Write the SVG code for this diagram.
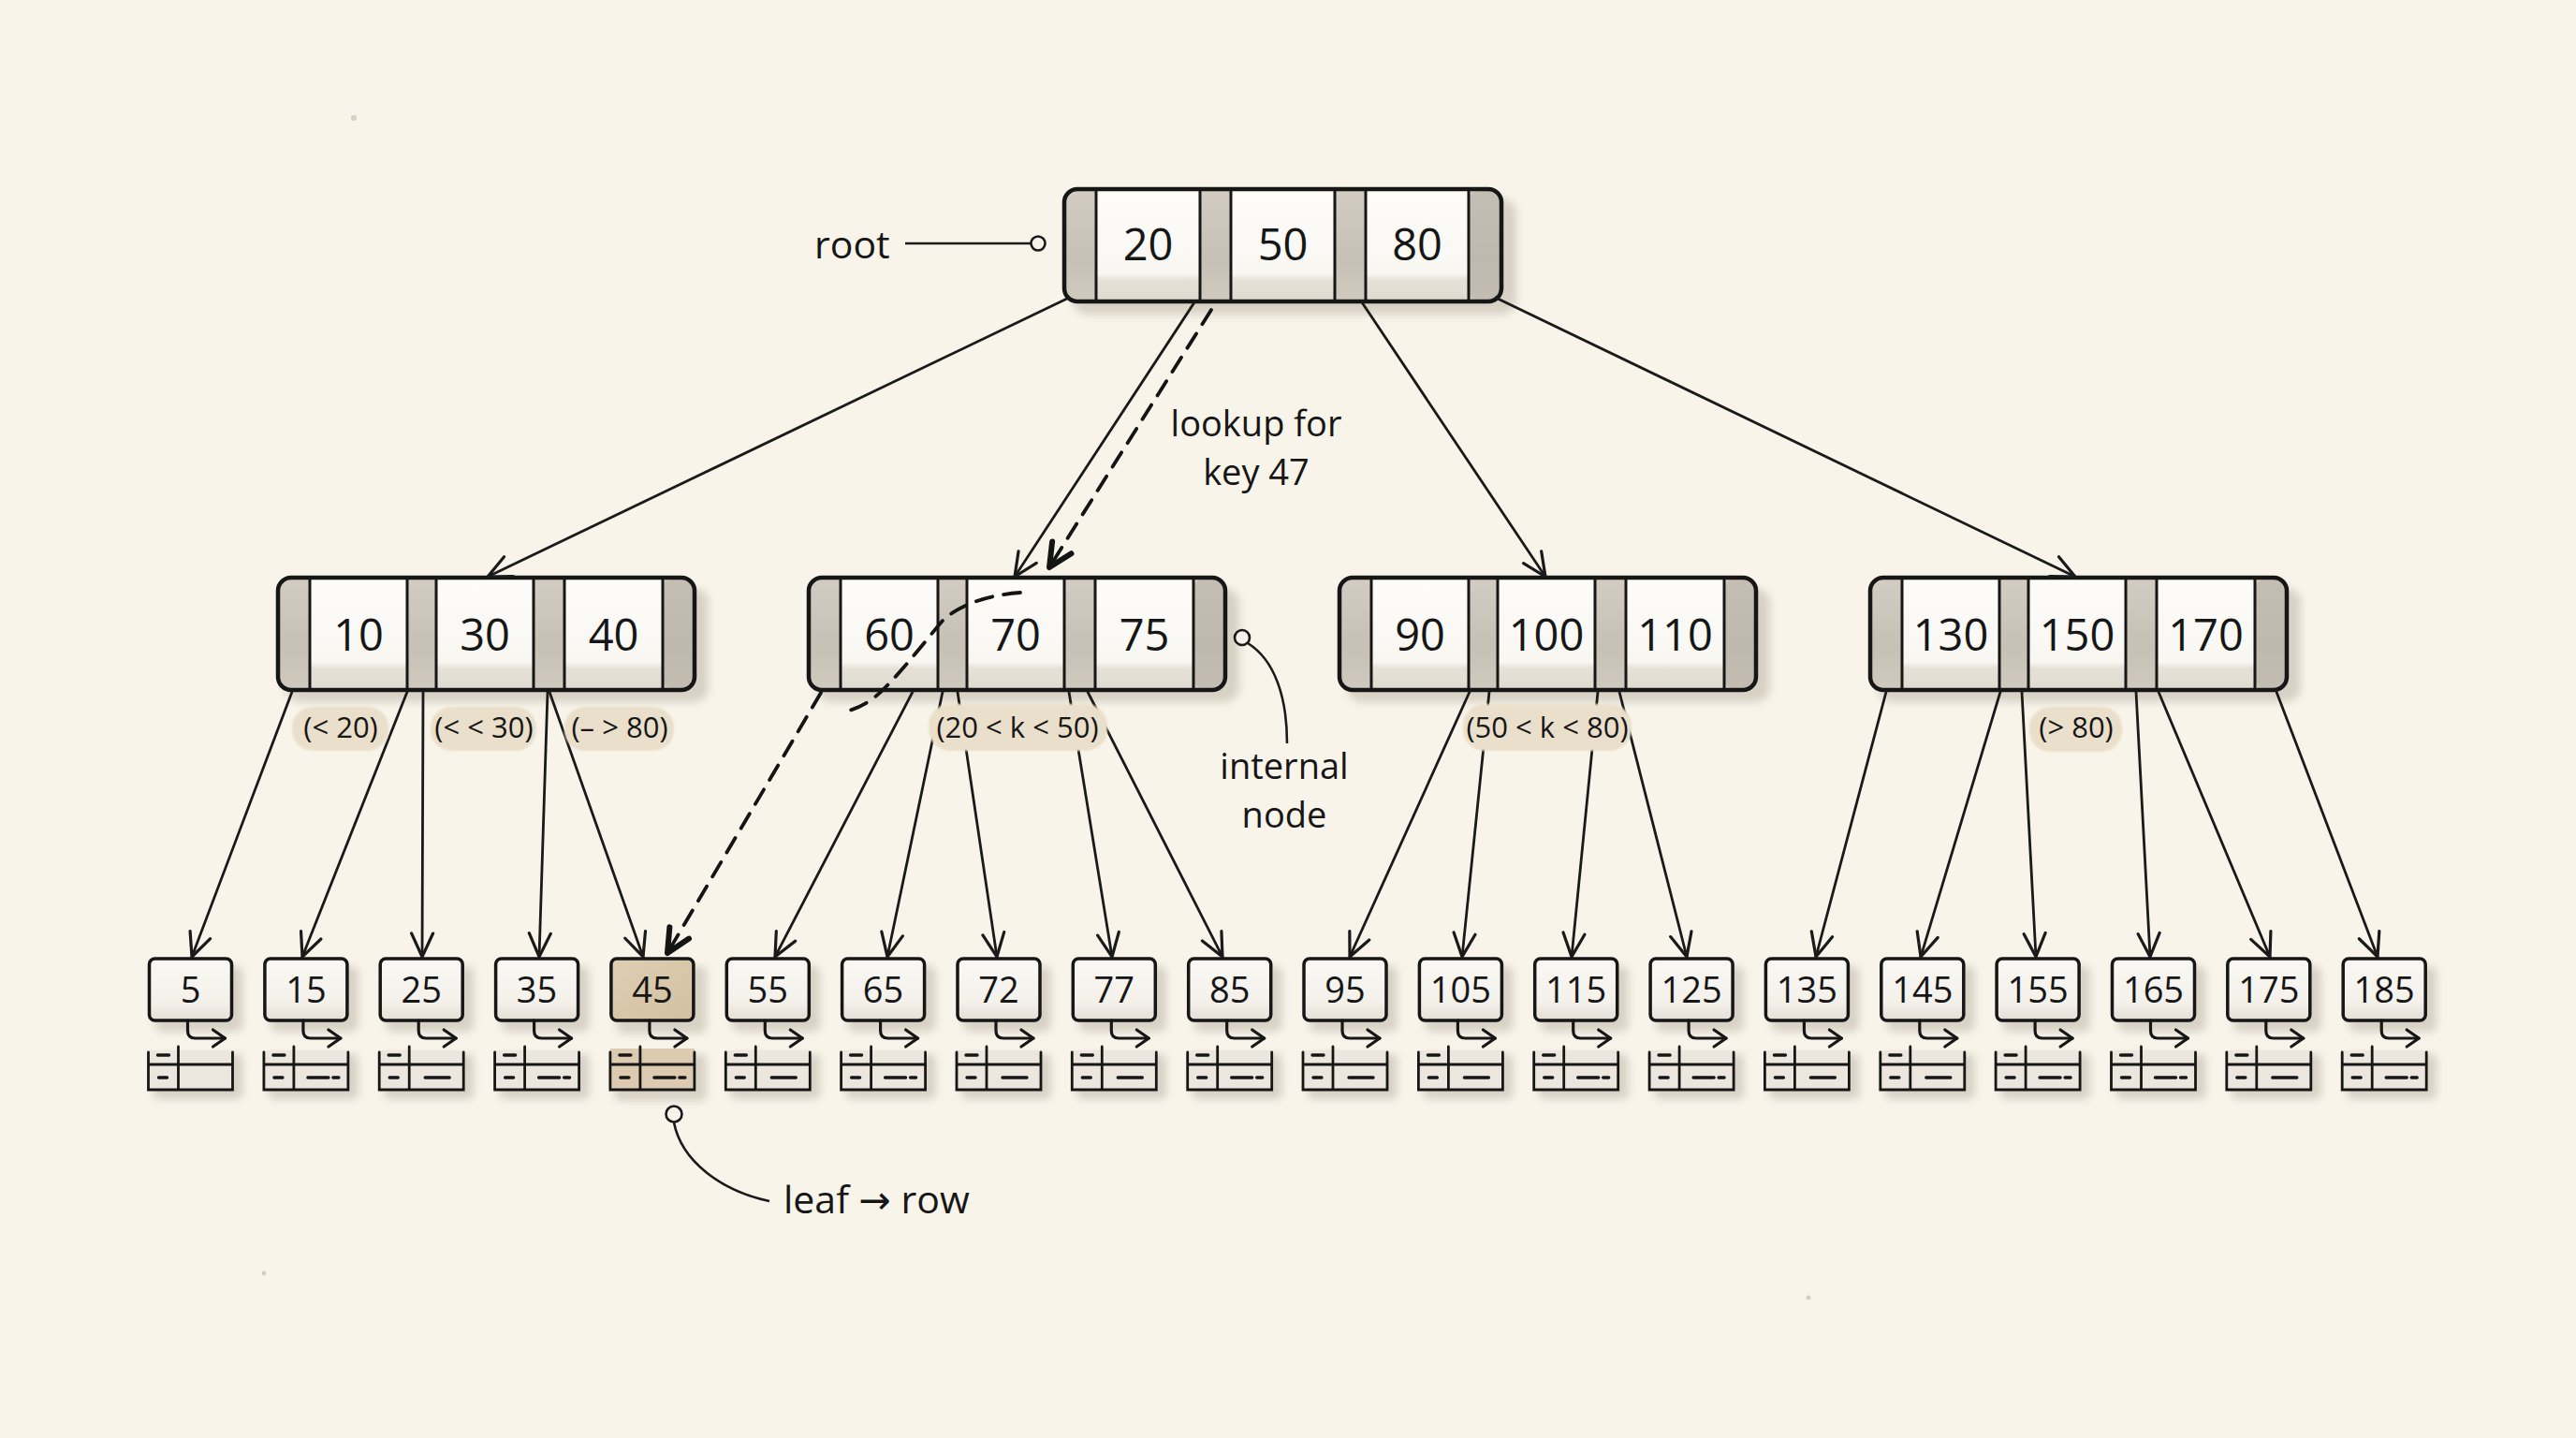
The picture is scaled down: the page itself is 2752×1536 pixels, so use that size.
<svg xmlns="http://www.w3.org/2000/svg" xmlns:xlink="http://www.w3.org/1999/xlink" width="2752" height="1536" viewBox="0 0 2752 1536">
<defs>
<style>
.t{font-family:"Open Sans","Noto Sans","DejaVu Sans",sans-serif;fill:#161616}
.nt{font-size:47px;text-anchor:middle}
.lt{font-size:38px;text-anchor:middle}
.pt{font-size:31px;text-anchor:middle}
.lab{font-size:41px}
.lab2{font-size:38px}
.mid{text-anchor:middle}
.shadow{fill:#d3ccbf;filter:url(#soft);opacity:.85}
.slot{fill:url(#slotg)}
.slotd{fill:#b9b2a6;opacity:.55}
.key{fill:url(#keyg)}
.outline{fill:none;stroke:#161616;stroke-width:4.5}
.div{fill:none;stroke:#161616;stroke-width:3}
.lbox{fill:url(#lboxg);stroke:#161616;stroke-width:3.5}
.lbox45{fill:url(#lbox45g);stroke:#161616;stroke-width:3.5}
.tfill{fill:#ece7de}
.tfill45{fill:#dccbb0}
.tline{fill:none;stroke:#161616;stroke-width:2.8;stroke-linecap:round}
.tdash{fill:none;stroke:#161616;stroke-width:3.4;stroke-linecap:round}
.sarrow{fill:none;stroke:#161616;stroke-width:3.2;stroke-linecap:round;marker-end:url(#ahs)}
.conn{fill:none;stroke:#1a1a1a;stroke-width:2.8;stroke-linecap:round;marker-end:url(#ah)}
.dash{fill:none;stroke:#141414;stroke-width:3.8;stroke-dasharray:18 12;stroke-linecap:round}
.dasha{marker-end:url(#ahf)}
.pill{fill:#eadfca;filter:url(#soft2)}
.call{fill:none;stroke:#1a1a1a;stroke-width:2.6}
.ring{fill:#f7f3ea;stroke:#1a1a1a;stroke-width:2.6}
</style>
<filter id="soft" x="-20%" y="-30%" width="140%" height="160%"><feGaussianBlur stdDeviation="4"/></filter>
<filter id="soft2" x="-10%" y="-30%" width="120%" height="160%"><feGaussianBlur stdDeviation="1.2"/></filter>
<linearGradient id="slotg" x1="0" y1="0" x2="0" y2="1">
<stop offset="0" stop-color="#d2ccc2"/><stop offset="0.6" stop-color="#c6c0b5"/><stop offset="1" stop-color="#cfc9be"/>
</linearGradient>
<linearGradient id="keyg" x1="0" y1="0" x2="0" y2="1">
<stop offset="0" stop-color="#fdfcf9"/><stop offset="0.76" stop-color="#f9f7f2"/><stop offset="0.82" stop-color="#e6e1d7"/><stop offset="1" stop-color="#e0dbd0"/>
</linearGradient>
<linearGradient id="lboxg" x1="0" y1="0" x2="0" y2="1">
<stop offset="0" stop-color="#faf8f4"/><stop offset="0.7" stop-color="#f4f1eb"/><stop offset="1" stop-color="#e4dfd5"/>
</linearGradient>
<linearGradient id="lbox45g" x1="0" y1="0" x2="1" y2="1">
<stop offset="0" stop-color="#dfceb3"/><stop offset="1" stop-color="#d3c0a1"/>
</linearGradient>
<marker id="ah" viewBox="-28 -15 32 30" markerWidth="32" markerHeight="30" refX="0" refY="0" orient="auto" markerUnits="userSpaceOnUse">
<path d="M-25,-11.5 L0,0 L-25,11.5" fill="none" stroke="#1a1a1a" stroke-width="3.2" stroke-linecap="round" stroke-linejoin="round"/>
</marker>
<marker id="ahf" viewBox="-30 -16 34 32" markerWidth="34" markerHeight="32" refX="0" refY="0" orient="auto" markerUnits="userSpaceOnUse">
<path d="M-25,-12 L0,0 L-25,12" fill="none" stroke="#141414" stroke-width="6" stroke-linecap="round" stroke-linejoin="round"/>
</marker>
<marker id="ahs" viewBox="-18 -12 22 24" markerWidth="22" markerHeight="24" refX="0" refY="0" orient="auto" markerUnits="userSpaceOnUse">
<path d="M-13,-9 L0,0 L-13,9" fill="none" stroke="#161616" stroke-width="3.2" stroke-linecap="round" stroke-linejoin="round"/>
</marker>
<g id="inode">
<rect x="8" y="628" width="452" height="122" rx="16" class="shadow"/>
<rect x="0" y="617" width="445" height="120" rx="14" class="slot"/>
<rect x="411" y="619" width="32" height="116" rx="10" class="slotd"/>
<rect x="34" y="619" width="104" height="116" class="key"/>
<rect x="169" y="619" width="104" height="116" class="key"/>
<rect x="306" y="619" width="105" height="116" class="key"/>
<path d="M34,617 V737 M138,617 V737 M169,617 V737 M273,617 V737 M306,617 V737 M411,617 V737" class="div"/>
<rect x="0" y="617" width="445" height="120" rx="14" class="outline"/>
</g>
<g id="leafBase">
<rect x="-38" y="1032" width="94" height="70" rx="8" class="shadow"/>
<rect x="-44" y="1024" width="88" height="66" rx="6" class="lbox"/>
<path d="M-3,1090 V1101 Q-3,1109 5,1109 H37" class="sarrow"/>
<rect x="-40" y="1126" width="96" height="48" rx="6" class="shadow"/>
<rect x="-45" y="1122" width="90" height="43" class="tfill"/>
<path d="M-45,1124 V1164 H45 V1124 M-45,1137 H45 M-13,1118 V1164" class="tline"/>
<path d="M-35,1127 H-23 M-34,1151 H-25" class="tdash"/>
</g>
<g id="leafA"><use href="#leafBase"/><path d="M4,1151 H30" class="tdash"/></g>
<g id="leafB"><use href="#leafBase"/><path d="M2,1151 H24 M29,1151 H35" class="tdash"/></g>
<g id="leafC"><use href="#leafBase"/></g>
</defs>

<rect x="0" y="0" width="2752" height="1536" fill="#f8f4ea"/>
<g fill="#c9bfae" opacity="0.7">
<circle cx="378" cy="126" r="3"/>
<circle cx="282" cy="1360" r="2.5"/>
<circle cx="1932" cy="1386" r="2.5"/>
</g>

<!-- root node -->
<g id="root-node">
<rect x="1146" y="212" width="474" height="124" rx="16" class="shadow"/>
<rect x="1137" y="202" width="467" height="120" rx="14" class="slot"/>
<rect x="1569" y="204" width="33" height="116" rx="10" class="slotd"/>
<rect x="1171" y="204" width="111" height="116" class="key"/>
<rect x="1315" y="204" width="111" height="116" class="key"/>
<rect x="1459" y="204" width="110" height="116" class="key"/>
<path d="M1171,202 V322 M1282,202 V322 M1315,202 V322 M1426,202 V322 M1459,202 V322 M1569,202 V322" class="div"/>
<rect x="1137" y="202" width="467" height="120" rx="14" class="outline"/>
<text x="1226.5" y="278" class="t nt">20</text>
<text x="1370.5" y="278" class="t nt">50</text>
<text x="1514" y="278" class="t nt">80</text>
</g>

<!-- internal nodes -->
<g id="node-10-30-40">
<use href="#inode" x="297"/>
<text x="383" y="695" class="t nt">10</text>
<text x="518" y="695" class="t nt">30</text>
<text x="655.5" y="695" class="t nt">40</text>
</g>
<g id="node-60-70-75">
<use href="#inode" x="864"/>
<text x="950" y="695" class="t nt">60</text>
<text x="1085" y="695" class="t nt">70</text>
<text x="1222.5" y="695" class="t nt">75</text>
</g>
<g id="node-90-100-110">
<use href="#inode" x="1431"/>
<text x="1517" y="695" class="t nt">90</text>
<text x="1652" y="695" class="t nt">100</text>
<text x="1789.5" y="695" class="t nt">110</text>
</g>
<g id="node-130-150-170">
<use href="#inode" x="1998"/>
<text x="2084" y="695" class="t nt">130</text>
<text x="2219" y="695" class="t nt">150</text>
<text x="2356.5" y="695" class="t nt">170</text>
</g>

<!-- leaves -->
<g id="leaf-5" transform="translate(203.5 0)"><use href="#leafC"/><text x="0" y="1071" class="t lt">5</text></g>
<g id="leaf-15" transform="translate(326.9 0)"><use href="#leafB"/><text x="0" y="1071" class="t lt">15</text></g>
<g id="leaf-25" transform="translate(450.2 0)"><use href="#leafA"/><text x="0" y="1071" class="t lt">25</text></g>
<g id="leaf-35" transform="translate(573.6 0)"><use href="#leafB"/><text x="0" y="1071" class="t lt">35</text></g>
<g id="leaf-45" transform="translate(696.9 0)">
<rect x="-38" y="1032" width="96" height="72" rx="8" class="shadow"/>
<rect x="-44" y="1024" width="88" height="66" rx="6" class="lbox45"/>
<path d="M-3,1090 V1101 Q-3,1109 5,1109 H37" class="sarrow"/>
<rect x="-40" y="1126" width="98" height="50" rx="6" class="shadow"/>
<rect x="-45" y="1120" width="90" height="45" class="tfill45"/>
<path d="M-45,1124 V1164 H45 V1124 M-45,1137 H45 M-13,1118 V1164" class="tline"/>
<path d="M-35,1127 H-23 M-34,1151 H-25 M2,1151 H24 M29,1151 H35" class="tdash"/>
<text x="0" y="1071" class="t lt">45</text>
</g>
<g id="leaf-55" transform="translate(820.3 0)"><use href="#leafA"/><text x="0" y="1071" class="t lt">55</text></g>
<g id="leaf-65" transform="translate(943.6 0)"><use href="#leafB"/><text x="0" y="1071" class="t lt">65</text></g>
<g id="leaf-72" transform="translate(1067 0)"><use href="#leafA"/><text x="0" y="1071" class="t lt">72</text></g>
<g id="leaf-77" transform="translate(1190.3 0)"><use href="#leafA"/><text x="0" y="1071" class="t lt">77</text></g>
<g id="leaf-85" transform="translate(1313.7 0)"><use href="#leafB"/><text x="0" y="1071" class="t lt">85</text></g>
<g id="leaf-95" transform="translate(1437 0)"><use href="#leafA"/><text x="0" y="1071" class="t lt">95</text></g>
<g id="leaf-105" transform="translate(1560.4 0)"><use href="#leafA"/><text x="0" y="1071" class="t lt">105</text></g>
<g id="leaf-115" transform="translate(1683.7 0)"><use href="#leafB"/><text x="0" y="1071" class="t lt">115</text></g>
<g id="leaf-125" transform="translate(1807.1 0)"><use href="#leafB"/><text x="0" y="1071" class="t lt">125</text></g>
<g id="leaf-135" transform="translate(1930.4 0)"><use href="#leafA"/><text x="0" y="1071" class="t lt">135</text></g>
<g id="leaf-145" transform="translate(2053.8 0)"><use href="#leafA"/><text x="0" y="1071" class="t lt">145</text></g>
<g id="leaf-155" transform="translate(2177.1 0)"><use href="#leafB"/><text x="0" y="1071" class="t lt">155</text></g>
<g id="leaf-165" transform="translate(2300.5 0)"><use href="#leafB"/><text x="0" y="1071" class="t lt">165</text></g>
<g id="leaf-175" transform="translate(2423.8 0)"><use href="#leafA"/><text x="0" y="1071" class="t lt">175</text></g>
<g id="leaf-185" transform="translate(2547.2 0)"><use href="#leafB"/><text x="0" y="1071" class="t lt">185</text></g>

<!-- connectors -->
<g id="connectors">
<path d="M1142,318 L521,616" class="conn"/>
<path d="M1276,323 L1084,616" class="conn"/>
<path d="M1455,323 L1651,616" class="conn"/>
<path d="M1598,318 L2217,616" class="conn"/>

<path d="M312,739 L205,1022" class="conn"/>
<path d="M435,739 L323,1022" class="conn"/>
<path d="M452,739 L451,1022" class="conn"/>
<path d="M585,739 L576,1022" class="conn"/>
<path d="M587,739 L687,1022" class="conn"/>

<path d="M975,739 L828,1022" class="conn"/>
<path d="M1007,739 L948,1022" class="conn"/>
<path d="M1023,739 L1065,1022" class="conn"/>
<path d="M1142,739 L1188,1022" class="conn"/>
<path d="M1162,739 L1306,1022" class="conn"/>

<path d="M1570,739 L1442,1022" class="conn"/>
<path d="M1591,739 L1562,1022" class="conn"/>
<path d="M1707,739 L1679,1022" class="conn"/>
<path d="M1730,739 L1802,1022" class="conn"/>

<path d="M2015,739 L1940,1022" class="conn"/>
<path d="M2137,739 L2052,1022" class="conn"/>
<path d="M2160,739 L2175,1022" class="conn"/>
<path d="M2282,739 L2297,1022" class="conn"/>
<path d="M2306,739 L2425,1022" class="conn"/>
<path d="M2432,739 L2540,1022" class="conn"/>

<path d="M1294,331 L1121,606" class="dash dasha"/>
<path d="M1090,633 C1050,636 1022,648 1006,664 C986,688 966,714 946,734 C932,749 918,756 904,760" class="dash"/>
<path d="M877,740 L713,1018" class="dash dasha"/>

<path d="M967,260 H1101" class="call"/>
<circle cx="1109" cy="260" r="7.5" class="ring"/>
<path d="M1333,687 C1362,705 1375,745 1375,794" class="call"/>
<circle cx="1327" cy="681" r="8" class="ring"/>
<path d="M720,1199 C728,1240 770,1272 822,1283" class="call"/>
<circle cx="720" cy="1190" r="8.5" class="ring"/>
</g>

<!-- range pills -->
<g id="pills">
<rect x="312" y="755" width="103" height="47" rx="22" class="pill"/>
<text x="364" y="788" class="t pt">(&lt; 20)</text>
<rect x="460" y="755" width="113" height="47" rx="22" class="pill"/>
<text x="517" y="788" class="t pt">(&lt; &lt; 30)</text>
<rect x="603" y="755" width="117" height="47" rx="22" class="pill"/>
<text x="662" y="788" class="t pt">(– &gt; 80)</text>
<rect x="992" y="752" width="191" height="50" rx="23" class="pill"/>
<text x="1087" y="788" class="t pt">(20 &lt; k &lt; 50)</text>
<rect x="1563" y="752" width="180" height="50" rx="23" class="pill"/>
<text x="1653" y="788" class="t pt">(50 &lt; k &lt; 80)</text>
<rect x="2168" y="755" width="99" height="48" rx="22" class="pill"/>
<text x="2218" y="788" class="t pt">(&gt; 80)</text>
</g>

<!-- labels -->
<g id="labels">
<text x="870" y="276" class="t lab">root</text>
<text x="1342" y="466" class="t lab2 mid">lookup for</text>
<text x="1342" y="518" class="t lab2 mid">key 47</text>
<text x="1372" y="832" class="t lab2 mid">internal</text>
<text x="1372" y="884" class="t lab2 mid">node</text>
<text x="837" y="1296" class="t lab">leaf → row</text>
</g>
</svg>
